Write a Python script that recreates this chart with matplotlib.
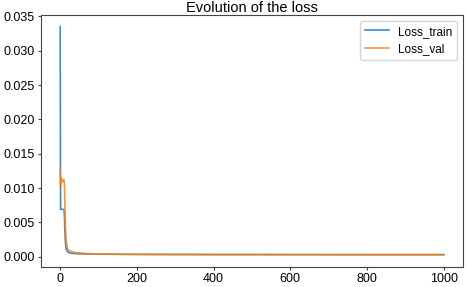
import matplotlib.pyplot as plt

plt.rcParams['font.family'] = ['Liberation Sans', 'DejaVu Sans']

# values (key epochs)
epochs_train = [0, 1, 2, 5, 8, 10, 11, 12, 13, 14, 15, 17, 20, 23, 30, 50, 100, 200, 400, 600, 800, 1000]
loss_train = [0.0335, 0.0069, 0.0069, 0.0069, 0.0069, 0.0068, 0.0060, 0.0042, 0.0028, 0.0019, 0.0013, 0.0009,
              0.0007, 0.0006, 0.0005, 0.00042, 0.00037, 0.00034, 0.00032, 0.00031, 0.0003, 0.0003]

epochs_val = [0, 1, 2, 3, 4, 5, 6, 7, 8, 9, 10, 11, 12, 13, 14, 15, 16, 18, 20, 23, 27, 33, 40, 50, 70,
              100, 150, 200, 300, 400, 600, 800, 1000]
loss_val = [0.0125, 0.0104, 0.0115, 0.0108, 0.0112, 0.0110, 0.0113, 0.0109, 0.0111, 0.0110, 0.0112, 0.0108,
            0.0085, 0.0060, 0.0042, 0.0030, 0.0022, 0.0015, 0.0011, 0.0009, 0.0008, 0.0007, 0.0006, 0.00055,
            0.00047, 0.0004, 0.00037, 0.00035, 0.00033, 0.00032, 0.00031, 0.0003, 0.0003]

fig = plt.figure(figsize=(4.68, 2.87), dpi=100)
ax = fig.add_axes([41 / 468, 1 - 266.7 / 287, 422 / 468, 251.7 / 287])
ax.plot(epochs_train, loss_train, color='#1f77b4', lw=1.2, alpha=0.85, label='Loss_train')
ax.plot(epochs_val, loss_val, color='#ff7f0e', lw=1.2, alpha=0.85, label='Loss_val')

ax.set_title('Evolution of the loss', fontsize=10.5, pad=2)
ax.set_xticks([0, 200, 400, 600, 800, 1000])
ax.set_yticks([0.0, 0.005, 0.010, 0.015, 0.020, 0.025, 0.030, 0.035])
ax.set_ylim(-0.00145, 0.0352)
ax.tick_params(labelsize=9, length=2.5, pad=2, color='#444444')
for s in ax.spines.values():
    s.set_color('#444444')
ax.legend(loc='upper right', fontsize=8.5)

fig.savefig('out.png', dpi=100)
